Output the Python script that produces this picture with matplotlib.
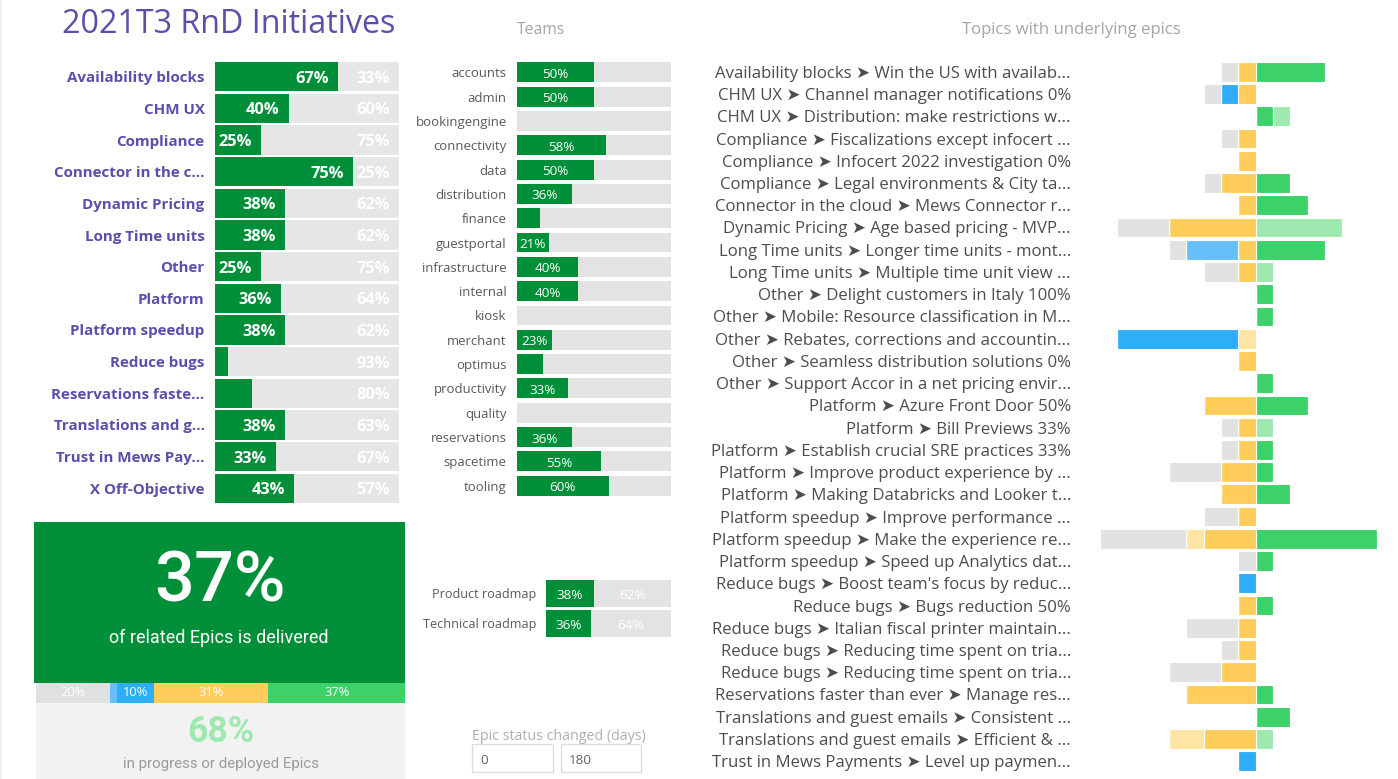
import numpy as np
import matplotlib
matplotlib.use('Agg')
import matplotlib.pyplot as plt
from matplotlib.patches import Rectangle
from matplotlib.textpath import TextPath
from matplotlib.font_manager import FontProperties

W, H, DPI = 1398, 779, 100
SANS = ['Open Sans', 'DejaVu Sans']
plt.rcParams['font.family'] = SANS

PURPLE = '#5a4fab'
GREEN = '#008f39'
BAR_GREY = '#e6e6e6'
TXT_GREY = '#595959'
HEAD_GREY = '#a6a6a6'

# ---- data ----
initiatives = ['Availability blocks', 'CHM UX', 'Compliance', 'Connector in the c...',
               'Dynamic Pricing', 'Long Time units', 'Other', 'Platform',
               'Platform speedup', 'Reduce bugs', 'Reservations faste...',
               'Translations and g...', 'Trust in Mews Pay...', 'X Off-Objective']
init_done = [67, 40, 25, 75, 38, 38, 25, 36, 38, 7, 20, 38, 33, 43]
init_rest = [33, 60, 75, 25, 62, 62, 75, 64, 62, 93, 80, 63, 67, 57]

teams = ['accounts', 'admin', 'bookingengine', 'connectivity', 'data', 'distribution',
         'finance', 'guestportal', 'infrastructure', 'internal', 'kiosk', 'merchant',
         'optimus', 'productivity', 'quality', 'reservations', 'spacetime', 'tooling']
team_done = [50, 50, 0, 58, 50, 36, 15, 21, 40, 40, 0, 23, 17, 33, 0, 36, 55, 60]

roadmaps = ['Product roadmap', 'Technical roadmap']
road_done = [38, 36]
road_rest = [62, 64]

delivered_pct = 37
active_pct = 68
status_share = [20, 2, 10, 31, 37]   # to do, review, blocked, in progress, done
status_colors = ['#e0e0e0', '#66bff8', '#2eaef7', '#ffcd5a', '#3dd16a']

topics = [
    'Availability blocks ➤ Win the US with availab...',
    'CHM UX ➤ Channel manager notifications 0%',
    'CHM UX ➤ Distribution: make restrictions w...',
    'Compliance ➤ Fiscalizations except infocert ...',
    'Compliance ➤ Infocert 2022 investigation 0%',
    'Compliance ➤ Legal environments & City ta...',
    'Connector in the cloud ➤ Mews Connector r...',
    'Dynamic Pricing ➤ Age based pricing - MVP...',
    'Long Time units ➤ Longer time units - mont...',
    'Long Time units ➤ Multiple time unit view ...',
    'Other ➤ Delight customers in Italy 100%',
    'Other ➤ Mobile: Resource classification in M...',
    'Other ➤ Rebates, corrections and accountin...',
    'Other ➤ Seamless distribution solutions 0%',
    'Other ➤ Support Accor in a net pricing envir...',
    'Platform ➤ Azure Front Door 50%',
    'Platform ➤ Bill Previews 33%',
    'Platform ➤ Establish crucial SRE practices 33%',
    'Platform ➤ Improve product experience by ...',
    'Platform ➤ Making Databricks and Looker t...',
    'Platform speedup ➤ Improve performance ...',
    'Platform speedup ➤ Make the experience re...',
    'Platform speedup ➤ Speed up Analytics dat...',
    "Reduce bugs ➤ Boost team's focus by reduc...",
    'Reduce bugs ➤ Bugs reduction 50%',
    'Reduce bugs ➤ Italian fiscal printer maintain...',
    'Reduce bugs ➤ Reducing time spent on tria...',
    'Reduce bugs ➤ Reducing time spent on tria...',
    'Reservations faster than ever ➤ Manage res...',
    'Translations and guest emails ➤ Consistent ...',
    'Translations and guest emails ➤ Efficient & ...',
    'Trust in Mews Payments ➤ Level up paymen...',
]
# epic counts per status (right of zero: done, deployed; left: the rest)
t_done     = [4, 0, 1, 0, 0, 2, 3, 0, 4, 0, 1, 1, 0, 0, 1, 3, 0, 1, 1, 2, 0, 7, 1, 0, 1, 0, 0, 0, 1, 2, 0, 0]
t_deployed = [0, 0, 1, 0, 0, 0, 0, 5, 0, 1, 0, 0, 0, 0, 0, 0, 1, 0, 0, 0, 0, 0, 0, 0, 0, 0, 0, 0, 0, 0, 1, 0]
t_progress = [1, 1, 0, 1, 1, 2, 1, 5, 1, 1, 0, 0, 0, 1, 0, 3, 1, 1, 2, 2, 1, 3, 0, 0, 1, 1, 1, 2, 4, 0, 3, 0]
t_ready    = [0, 0, 0, 0, 0, 0, 0, 0, 0, 0, 0, 0, 1, 0, 0, 0, 0, 0, 0, 0, 0, 1, 0, 0, 0, 0, 0, 0, 0, 0, 2, 0]
t_blocked  = [0, 1, 0, 0, 0, 0, 0, 0, 0, 0, 0, 0, 7, 0, 0, 0, 0, 0, 0, 0, 0, 0, 0, 1, 0, 0, 0, 0, 0, 0, 0, 1]
t_review   = [0, 0, 0, 0, 0, 0, 0, 0, 3, 0, 0, 0, 0, 0, 0, 0, 0, 0, 0, 0, 0, 0, 0, 0, 0, 0, 0, 0, 0, 0, 0, 0]
t_todo     = [1, 1, 0, 1, 0, 1, 0, 3, 1, 2, 0, 0, 0, 0, 0, 0, 1, 1, 3, 0, 2, 5, 1, 0, 0, 3, 1, 3, 0, 0, 0, 0]


def fit(s, px, family=SANS, weight='normal'):
    """font size (pt) so that string s is px pixels wide"""
    fp = FontProperties(family=family, weight=weight)
    w = TextPath((0, 0), s, size=10, prop=fp).get_extents().width
    return 10 * px / (w * DPI / 72)


fig = plt.figure(figsize=(W / DPI, H / DPI), dpi=DPI)
fig.patch.set_facecolor('white')


def px_axes(x0, y0, x1, y1):
    ax = fig.add_axes([x0 / W, 1 - y1 / H, (x1 - x0) / W, (y1 - y0) / H])
    for sp in ax.spines.values():
        sp.set_visible(False)
    ax.tick_params(length=0)
    ax.set_xticks([])
    return ax


def ftext(x, y, s, **kw):
    return fig.text(x / W, 1 - y / H, s, **kw)


def px_rect(x0, y0, x1, y1, **kw):
    fig.patches.append(Rectangle((x0 / W, 1 - y1 / H), (x1 - x0) / W, (y1 - y0) / H,
                                 transform=fig.transFigure, **kw))


# faint frame line on the left edge
px_rect(0, 0, 2, H, color='#eeeeee', lw=0)

# ---- title ----
ftext(61.7, 33, '2021T3 RnD Initiatives', color=PURPLE, va='baseline',
      fontsize=fit('2021T3 RnD Initiatives', 331))

# ---- initiatives ----
ax = px_axes(215, 60.9, 399, 504.1)
y = np.arange(len(initiatives))
ax.barh(y, init_done, height=0.925, color=GREEN)
ax.barh(y, init_rest, left=init_done, height=0.925, color=BAR_GREY)
ax.set_xlim(0, 100)
ax.set_ylim(len(initiatives) - 0.5, -0.5)
fs_lab = fit('Availability blocks', 137, weight='bold')
ax.set_yticks(y, labels=initiatives, fontsize=fs_lab, fontweight='bold', color=PURPLE)
ax.tick_params(axis='y', pad=7.5)
fs_val = fit('67%', 32.3, weight='bold')
for i, (d, r) in enumerate(zip(init_done, init_rest)):
    if d >= 25:
        ax.text(d - 4.9, i + 0.06, f'{d}%', ha='right', va='center', color='white',
                fontweight='bold', fontsize=fs_val)
    ax.text(100 - 4.9, i + 0.06, f'{r}%', ha='right', va='center', color='white',
            fontweight='bold', fontsize=fs_val)

# ---- KPI block ----
px_rect(34, 522, 405, 683, color=GREEN, lw=0)
ftext(220, 602, f'{delivered_pct}%', color='white', ha='center', va='baseline',
      family='Roboto', fontweight='medium',
      fontsize=fit('37%', 126, family='Roboto', weight='medium'))
ftext(219, 643, 'of related Epics is delivered', color='white', ha='center', va='baseline',
      family='Roboto', fontsize=fit('of related Epics is delivered', 217, family='Roboto'))
px_rect(36, 703, 405, 779, color='#f2f2f2', lw=0)
ftext(221, 741.7, f'{active_pct}%', color='#9ee9b0', ha='center', va='baseline',
      family='Roboto', fontweight='bold', fontsize=fit('68%', 64, family='Roboto', weight='bold'))
ftext(221, 767.7, 'in progress or deployed Epics', color='#9a9a9a', ha='center', va='baseline',
      family='Roboto', fontsize=fit('in progress or deployed Epics', 195, family='Roboto'))

ax = px_axes(36, 683, 405, 703)
ax.set_yticks([])
left = 0
for v, c in zip(status_share, status_colors):
    ax.barh(0, v, left=left, height=1.0, color=c)
    if v >= 5:
        ax.text(left + v / 2, 0, f'{v}%', ha='center', va='center', color='white',
                fontsize=fit('20%', 24))
    left += v
ax.set_xlim(0, 100)
ax.set_ylim(-0.5, 0.5)

# ---- teams ----
ftext(541, 34, 'Teams', color=HEAD_GREY, ha='center', va='baseline',
      fontsize=fit('Teams', 47.7))
ax = px_axes(516.7, 60.1, 670.7, 497.9)
y = np.arange(len(teams))
team_rest = [100 - d for d in team_done]
ax.barh(y, team_done, height=0.82, color=GREEN)
ax.barh(y, team_rest, left=team_done, height=0.82, color='#e3e3e3')
ax.set_xlim(0, 100)
ax.set_ylim(len(teams) - 0.5, -0.5)
ax.set_yticks(y, labels=teams, fontsize=fit('bookingengine', 88.3), color=TXT_GREY)
ax.tick_params(axis='y', pad=7.2)
fs_team = fit('50%', 25)
for i, d in enumerate(team_done):
    if d >= 20:
        ax.text(d / 2, i + 0.08, f'{d}%', ha='center', va='center', color='white',
                fontsize=fs_team)

# ---- roadmaps ----
ax = px_axes(546, 578.3, 671, 638.3)
y = np.arange(len(roadmaps))
ax.barh(y, road_done, height=0.89, color=GREEN)
ax.barh(y, road_rest, left=road_done, height=0.89, color='#e3e3e3')
ax.set_xlim(0, 100)
ax.set_ylim(len(roadmaps) - 0.5, -0.5)
ax.set_yticks(y, labels=roadmaps, fontsize=fit('Product roadmap', 102), color=TXT_GREY)
ax.tick_params(axis='y', pad=7.2)
for i, (d, r) in enumerate(zip(road_done, road_rest)):
    ax.text(d / 2, i + 0.08, f'{d}%', ha='center', va='center', color='white', fontsize=fs_team)
    ax.text(d + r / 2, i + 0.08, f'{r}%', ha='center', va='center', color='white', fontsize=fs_team)

# ---- epic status filter ----
ftext(558.5, 740, 'Epic status changed (days)', color='#b0b0b0', ha='center', va='baseline',
      fontsize=fit('Epic status changed (days)', 171.7))
px_rect(471.7, 744.3, 552.7, 772.3, facecolor='white', edgecolor='#dddddd', lw=1)
px_rect(560.7, 744.3, 641.3, 772.3, facecolor='white', edgecolor='#dddddd', lw=1)
ftext(480, 764, '0', color='#666666', va='baseline', fontsize=fs_team)
ftext(569.3, 764, '180', color='#666666', va='baseline', fontsize=fs_team)

# ---- topics (diverging stacked bars) ----
ftext(1071, 34, 'Topics with underlying epics', color=HEAD_GREY, ha='center', va='baseline',
      fontsize=fit('Topics with underlying epics', 218.3))
UNIT = 17.35
ZERO = 1255.7
ax = px_axes(1090, 60.7, 1390, 772.3)
y = np.arange(len(topics))
kw = dict(height=0.885, edgecolor='white', linewidth=0.8)
ax.barh(y, t_done, color='#3dd16a', **kw)
ax.barh(y, t_deployed, left=t_done, color='#9ee9b0', **kw)
neg = np.zeros(len(topics))
for vals, col in [(t_progress, '#ffcd5a'), (t_ready, '#ffe5a3'), (t_blocked, '#2eaef7'),
                  (t_review, '#66bff8'), (t_todo, '#e2e2e2')]:
    v = np.array(vals, dtype=float)
    ax.barh(y, -v, left=-neg, color=col, **kw)
    neg += v
ax.set_xlim((1090 - ZERO) / UNIT, (1390 - ZERO) / UNIT)
ax.set_ylim(len(topics) - 0.5, -0.5)
ax.set_yticks(y, labels=topics, fontsize=fit('Establish crucial SRE practices 33%', 267.7),
              color='#4d4d4d')
ax.tick_params(axis='y', pad=13.7)

fig.savefig('out.png', dpi=DPI)
